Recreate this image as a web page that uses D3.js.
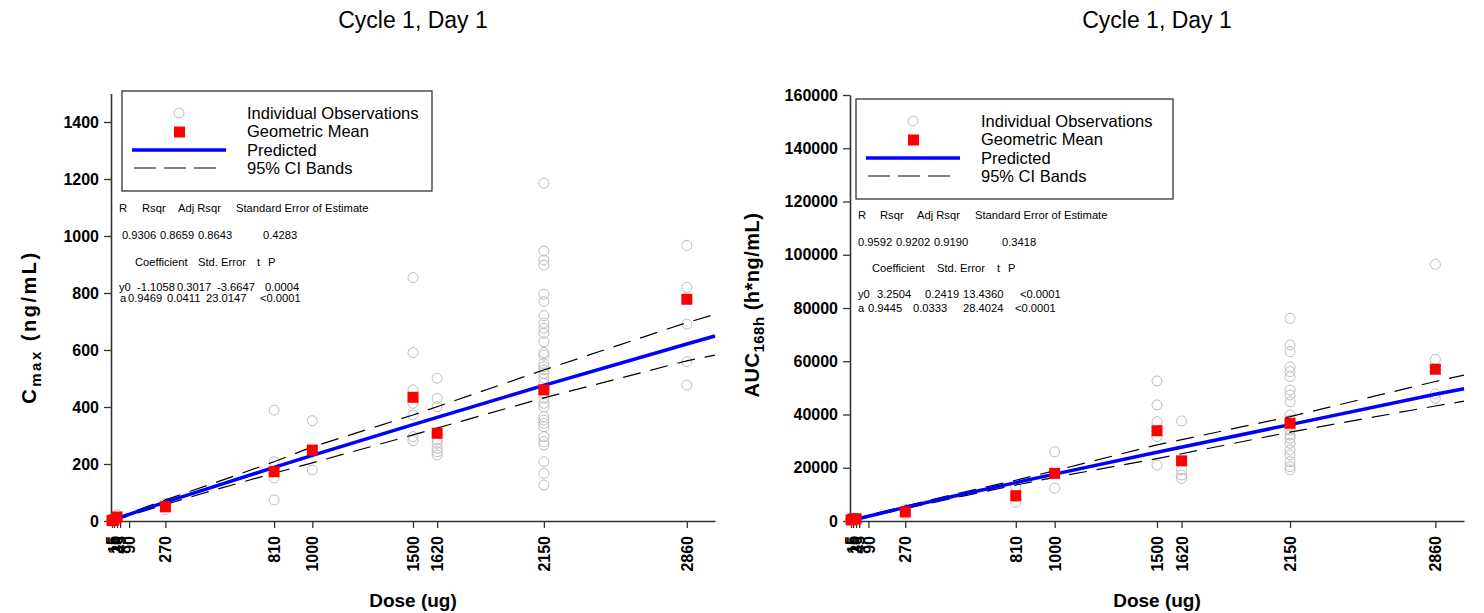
<!DOCTYPE html>
<html>
<head>
<meta charset="utf-8">
<script src="https://cdn.jsdelivr.net/npm/d3@7"></script>
<style>
body { margin: 0; background: #fff; }
text { font-family: "Liberation Sans", Arial, sans-serif; }
</style>
</head>
<body>
<svg id="chart"></svg>
<script>
// doses with observations (ug)
const doses = [5, 15, 30, 270, 810, 1000, 1500, 1620, 2150, 2860];
const doseTicks = [5, 15, 30, 45, 90, 270, 810, 1000, 1500, 1620, 2150, 2860];

// Cmax individual observations, one list per dose
const cmaxObs = [
    [1, 2],
    [3, 6],
    [10, 14, 22],
    [40, 48, 62],
    [74, 151, 208, 389],
    [179, 352],
    [282, 296, 372, 413, 460, 591, 854],
    [232, 243, 255, 273, 284, 401, 430, 501],
    [126, 167, 208, 267, 278, 296, 331, 343, 354, 366, 401, 413, 431, 448, 462, 483, 501, 518, 530, 541,
     553, 582, 591, 629, 659, 676, 694, 720, 770, 796, 898, 916, 947, 1185],
    [477, 559, 691, 820, 967]
];
const cmaxMean = [1.5, 4, 14, 50, 173, 249, 434, 308, 460, 778];

// AUC168h individual observations
const aucObs = [
    [300, 500],
    [600, 900],
    [600, 800, 1100],
    [2600, 3500, 4400],
    [7000, 9200, 12800],
    [12300, 26000],
    [21000, 31700, 37300, 43600, 52600],
    [16000, 17300, 19200, 37600],
    [19200, 20400, 22300, 24800, 26700, 29200, 31100, 32300, 34200, 36000, 37900, 39800, 44800, 47300,
     49200, 54200, 56100, 57900, 63600, 66100, 76100],
    [46100, 47700, 60700, 96400]
];
const aucMean = [400, 750, 800, 3400, 9500, 17900, 33900, 22600, 36700, 57000];

// predicted line and 95% CI bands
const fitDose = [0, 5, 15, 45, 90, 270, 500, 810, 1000, 1500, 2150, 2860, 3000];
const cmaxFit = [0, 1.5, 4.3, 12, 23.5, 66, 118, 188, 230, 338, 476, 621, 649];
const cmaxUpper = [0, 2, 6, 15, 28, 74, 130, 208, 260, 372, 530, 696, 725];
const cmaxLower = [0, 1, 3, 9, 19, 58, 106, 168, 204, 302, 432, 562, 582];
const aucFit = [0, 180, 470, 940, 1810, 5110, 9200, 14400, 17600, 25800, 36200, 47600, 49700];
const aucUpper = [0, 260, 620, 1150, 2150, 5600, 9900, 15300, 18900, 28600, 39200, 52400, 54800];
const aucLower = [0, 120, 350, 760, 1520, 4650, 8500, 13500, 16400, 23400, 33400, 43200, 45000];

const cmaxTicks = [0, 200, 400, 600, 800, 1000, 1200, 1400];
const aucTicks = [0, 20000, 40000, 60000, 80000, 100000, 120000, 140000, 160000];

const legendLabels = ["Individual Observations", "Geometric Mean", "Predicted", "95% CI Bands"];

const cmaxStats = [
    ["R", "Rsqr", "Adj Rsqr", "Standard Error of Estimate"],
    ["0.9306", "0.8659", "0.8643", "0.4283"],
    ["Coefficient", "Std. Error", "t", "P"],
    ["y0", "-1.1058", "0.3017", "-3.6647", "0.0004"],
    ["a", "0.9469", "0.0411", "23.0147", "<0.0001"]
];
const aucStats = [
    ["R", "Rsqr", "Adj Rsqr", "Standard Error of Estimate"],
    ["0.9592", "0.9202", "0.9190", "0.3418"],
    ["Coefficient", "Std. Error", "t", "P"],
    ["y0", "3.2504", "0.2419", "13.4360", "<0.0001"],
    ["a", "0.9445", "0.0333", "28.4024", "<0.0001"]
];

const width = 1484;
const height = 613;
const baseY = 521;

const svg = d3.select("#chart")
    .attr("width", width)
    .attr("height", height);

function drawPanel(p) {
    const x = d3.scaleLinear().domain([0, 3000]).range([p.left, p.right]);
    const y = d3.scaleLinear().domain([0, p.yMax]).range([baseY, p.top]);
    const g = svg.append("g");

    // title
    g.append("text")
        .attr("x", (p.left + p.right) / 2)
        .attr("y", 28)
        .attr("text-anchor", "middle")
        .style("font-size", "23px")
        .text("Cycle 1, Day 1");

    // axes
    const yAxis = g.append("g")
        .attr("transform", `translate(${p.left},0)`)
        .call(d3.axisLeft(y).tickValues(p.yTicks).tickFormat(d3.format("d"))
            .tickSize(7).tickSizeOuter(0).tickPadding(5));
    const xAxis = g.append("g")
        .attr("transform", `translate(0,${baseY})`)
        .call(d3.axisBottom(x).tickValues(doseTicks).tickFormat(d3.format("d"))
            .tickSize(7).tickSizeOuter(0));

    [xAxis, yAxis].forEach(a => {
        a.select(".domain").attr("stroke", "#333").attr("stroke-width", 1.6);
        a.selectAll(".tick line").attr("stroke", "#333").attr("stroke-width", 1.3);
        a.selectAll("text")
            .attr("fill", "#000")
            .style("font-size", "16px")
            .style("font-weight", "bold")
            .style("font-family", "'Liberation Sans', Arial, sans-serif");
    });
    xAxis.selectAll(".tick text")
        .attr("transform", "rotate(-90)")
        .attr("text-anchor", "end")
        .attr("x", -15)
        .attr("y", 0)
        .attr("dy", "0.35em");

    // axis titles
    g.append("text")
        .attr("x", (p.left + p.right) / 2)
        .attr("y", 607)
        .attr("text-anchor", "middle")
        .style("font-size", "19px")
        .style("font-weight", "bold")
        .text("Dose (ug)");

    const yl = g.append("text")
        .attr("transform", `translate(${p.yLabelX},${p.yLabelY}) rotate(-90)`)
        .attr("text-anchor", "middle")
        .style("font-size", "20px")
        .style("font-weight", "bold")
        .style("letter-spacing", p.yLabelSpacing);
    yl.append("tspan").text(p.yLabel[0]);
    yl.append("tspan").attr("dy", 5).style("font-size", "15px").text(p.yLabel[1]);
    yl.append("tspan").attr("dy", -5).text(p.yLabel[2]);

    // individual observations
    const obs = [];
    doses.forEach((d, i) => p.obs[i].forEach(v => obs.push({ dose: d, value: v })));
    g.append("g").selectAll("circle")
        .data(obs)
        .join("circle")
        .attr("cx", d => x(d.dose))
        .attr("cy", d => y(d.value))
        .attr("r", 5)
        .attr("fill", "none")
        .attr("stroke", "#bdbdbd")
        .attr("stroke-width", 1);

    // CI bands and predicted line
    const line = d3.line()
        .x((d, i) => x(fitDose[i]))
        .y(d => y(d));
    [p.upper, p.lower].forEach(band => {
        g.append("path")
            .attr("d", line(band))
            .attr("fill", "none")
            .attr("stroke", "#000")
            .attr("stroke-width", 1.2)
            .attr("stroke-dasharray", "18,10");
    });
    g.append("path")
        .attr("d", line(p.fit))
        .attr("fill", "none")
        .attr("stroke", "#0000ff")
        .attr("stroke-width", 3.5);

    // geometric means
    g.append("g").selectAll("rect")
        .data(doses)
        .join("rect")
        .attr("x", d => x(d) - 5.5)
        .attr("y", (d, i) => y(p.mean[i]) - 5.5)
        .attr("width", 11)
        .attr("height", 11)
        .attr("fill", "#ff0000");

    // legend
    const lg = g.append("g").attr("transform", `translate(${p.legendX},${p.legendY})`);
    lg.append("rect")
        .attr("width", p.legendW)
        .attr("height", 100)
        .attr("fill", "#fff")
        .attr("stroke", "#333")
        .attr("stroke-width", 1.3);
    lg.append("circle").attr("cx", 57).attr("cy", 22).attr("r", 5)
        .attr("fill", "none").attr("stroke", "#bdbdbd");
    lg.append("rect").attr("x", 52).attr("y", 35.5).attr("width", 11).attr("height", 11).attr("fill", "#ff0000");
    lg.append("line").attr("x1", 10).attr("x2", 104).attr("y1", 59).attr("y2", 59)
        .attr("stroke", "#0000ff").attr("stroke-width", 3.5);
    lg.append("line").attr("x1", 12).attr("x2", 94).attr("y1", 77).attr("y2", 77)
        .attr("stroke", "#000").attr("stroke-width", 1.2).attr("stroke-dasharray", "22,8");
    lg.selectAll("text.lab")
        .data(legendLabels)
        .join("text")
        .attr("class", "lab")
        .attr("x", 125)
        .attr("y", (d, i) => 22 + i * 18.4)
        .attr("dy", "0.35em")
        .style("font-size", "16.5px")
        .text(d => d);

    // regression statistics
    const sg = g.append("g");
    p.stats.forEach((row, r) => {
        sg.selectAll(null)
            .data(row)
            .join("text")
            .attr("x", (d, c) => p.statsX + p.statsCols[r][c])
            .attr("y", p.statsRowY[r])
            .attr("dy", "0.35em")
            .style("font-size", "11.2px")
            .text(d => d);
    });
}

drawPanel({
    left: 111, right: 715, top: 93.5, yMax: 1500, yTicks: cmaxTicks,
    obs: cmaxObs, mean: cmaxMean, fit: cmaxFit, upper: cmaxUpper, lower: cmaxLower,
    yLabel: ["C", "max", " (ng/mL)"], yLabelX: 36, yLabelY: 327, yLabelSpacing: "2.5px",
    legendX: 122, legendY: 91, legendW: 310,
    stats: cmaxStats, statsX: 119,
    statsRowY: [208, 235, 262, 287, 298.5],
    statsCols: [[0, 23, 59, 117], [3, 41, 79, 144], [16, 79, 138, 149], [0, 18, 58, 98, 146], [1, 9, 48, 87, 141]]
});

drawPanel({
    left: 850, right: 1464, top: 95, yMax: 160000, yTicks: aucTicks,
    obs: aucObs, mean: aucMean, fit: aucFit, upper: aucUpper, lower: aucLower,
    yLabel: ["AUC", "168h", " (h*ng/mL)"], yLabelX: 759, yLabelY: 305, yLabelSpacing: "0.5px",
    legendX: 856, legendY: 99, legendW: 317,
    stats: aucStats, statsX: 857,
    statsRowY: [215, 242, 268, 294, 308],
    statsCols: [[1, 23, 60, 118], [1, 39, 77, 145], [15, 80, 140, 151], [1, 20, 68, 106, 163], [1, 11, 56, 106, 158]]
});
</script>
</body>
</html>
